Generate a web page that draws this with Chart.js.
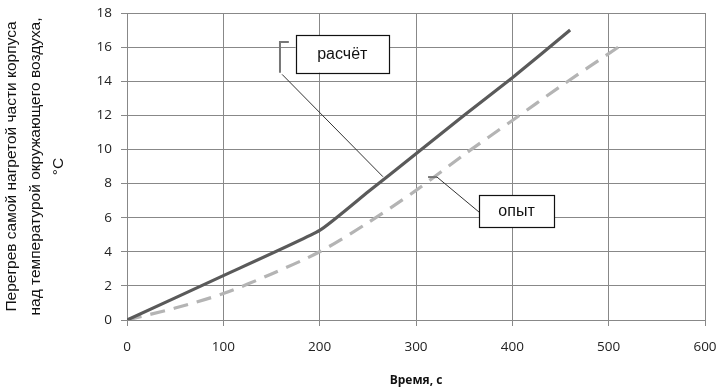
<!DOCTYPE html>
<html><head><meta charset="utf-8">
<script src="https://cdn.jsdelivr.net/npm/chart.js@4"></script>
<style>html,body{margin:0;padding:0;background:#fff}#w{width:725px;height:392px}</style>
</head><body><div id="w"><canvas id="c"></canvas></div>
<script>
const calcX = [0, 100, 200, 250, 300, 350, 400, 460];
const calcY = [0, 2.6, 5.25, 7.5, 9.75, 12.0, 14.2, 17.0];
const expX = [0, 50, 100, 150, 200, 250, 300, 350, 400, 450, 510];
const expY = [0, 0.7, 1.55, 2.7, 4.0, 5.7, 7.6, 9.7, 11.7, 13.7, 16.0];
const xTicks = [0, 100, 200, 300, 400, 500, 600];
const yTicks = [0, 2, 4, 6, 8, 10, 12, 14, 16, 18];
const seriesNames = ['расчёт', 'опыт'];
const xTitle = 'Время, с';
const yTitle = ['Перегрев самой нагретой части корпуса', 'над температурой окружающего воздуха,', '°C'];

const annot = {
  calc: {box: [175, 16.7, 272, 14.5], bracket: [[168, 16.3], [158.8, 16.3], [158.8, 14.5]], leader: [[161, 14.4], [265.7, 8.4]]},
  exp: {box: [365.4, 7.33, 443.3, 5.45], bracket: [[312.5, 8.38], [321.8, 8.38]], leader: [[321.8, 8.38], [365.4, 6.33]]}
};

const annotPlugin = {
  id: 'annot',
  afterDatasetsDraw(chart) {
    const {ctx, scales: {x, y}} = chart;
    const P = p => [x.getPixelForValue(p[0]), y.getPixelForValue(p[1])];
    ctx.save();
    const drawOne = (a, label) => {
      ctx.strokeStyle = '#333'; ctx.lineWidth = 1;
      ctx.beginPath();
      a.leader.forEach((p, i) => { const q = P(p); i ? ctx.lineTo(q[0], q[1]) : ctx.moveTo(q[0], q[1]); });
      ctx.stroke();
      ctx.strokeStyle = '#777'; ctx.lineWidth = 2;
      ctx.beginPath();
      a.bracket.forEach((p, i) => { const q = P(p); i ? ctx.lineTo(q[0], q[1]) : ctx.moveTo(q[0], q[1]); });
      ctx.stroke();
      const b1 = P([a.box[0], a.box[1]]), b2 = P([a.box[2], a.box[3]]);
      ctx.fillStyle = '#fff';
      ctx.fillRect(b1[0], b1[1], b2[0] - b1[0], b2[1] - b1[1]);
      ctx.strokeStyle = '#111'; ctx.lineWidth = 1.2;
      ctx.strokeRect(Math.round(b1[0]) + 0.5, Math.round(b1[1]) + 0.5, Math.round(b2[0] - b1[0]), Math.round(b2[1] - b1[1]));
      ctx.fillStyle = '#111';
      ctx.font = '16px "Liberation Sans", Arial, sans-serif';
      ctx.textAlign = 'center'; ctx.textBaseline = 'middle';
      ctx.fillText(label, (b1[0] + b2[0]) / 2, (b1[1] + b2[1]) / 2 + 1);
    };
    drawOne(annot.calc, seriesNames[0]);
    drawOne(annot.exp, seriesNames[1]);
    ctx.restore();
  }
};

new Chart(document.getElementById('c'), {
  type: 'line',
  data: {
    datasets: [
      {label: seriesNames[0], data: calcX.map((v, i) => ({x: v, y: calcY[i]})), borderColor: '#5a5a5a', borderWidth: 3.2, pointRadius: 0, tension: 0.15, fill: false},
      {label: seriesNames[1], data: expX.map((v, i) => ({x: v, y: expY[i]})), borderColor: '#b4b4b4', borderWidth: 3.2, borderDash: [15, 9], pointRadius: 0, tension: 0.3, fill: false}
    ]
  },
  plugins: [annotPlugin],
  options: {
    responsive: true, maintainAspectRatio: false, animation: false,
    layout: {padding: {left: 0, right: 20, top: 13, bottom: 0}},
    plugins: {legend: {display: false}, tooltip: {enabled: false}},
    scales: {
      x: {
        type: 'linear', min: 0, max: 600,
        afterBuildTicks: s => { s.ticks = xTicks.map(v => ({value: v})); },
        afterFit: s => { s.height = 72; s.paddingLeft = 0; s.paddingRight = 0; },
        grid: {color: '#888', lineWidth: 1, tickLength: 6, drawTicks: true},
        border: {color: '#888'},
        ticks: {padding: 13, color: '#222', font: {family: '"Open Sans", sans-serif', size: 13.5}, maxRotation: 0},
        title: {display: true, text: xTitle, color: '#111', font: {family: '"Open Sans", sans-serif', size: 12, weight: 'bold'}, padding: {top: 13}}
      },
      y: {
        type: 'linear', min: 0, max: 18,
        afterBuildTicks: s => { s.ticks = yTicks.map(v => ({value: v})); },
        afterFit: s => { s.width = 127; s.paddingTop = 0; s.paddingBottom = 0; },
        grid: {color: '#888', lineWidth: 1, tickLength: 6},
        border: {color: '#888'},
        ticks: {padding: 9, color: '#222', font: {family: '"Open Sans", sans-serif', size: 13.5}},
        title: {display: true, text: yTitle, color: '#111', font: {family: '"Liberation Sans", Arial, sans-serif', size: 15.5, lineHeight: 1.52}, padding: {top: 0, bottom: 0}}
      }
    }
  }
});
</script></body></html>
